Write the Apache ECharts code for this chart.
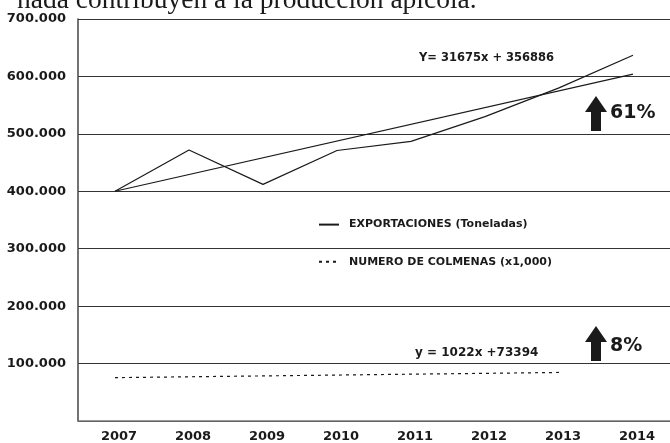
<!DOCTYPE html>
<html>
<head>
<meta charset="utf-8">
<script src="https://cdn.jsdelivr.net/npm/echarts@6/dist/echarts.min.js"></script>
<style>
  html, body { margin: 0; padding: 0; background: #fff; }
  #chart { width: 670px; height: 443px; }
</style>
</head>
<body>
<div id="chart"></div>
<script>
const years = ['2007', '2008', '2009', '2010', '2011', '2012', '2013', '2014']
const exportaciones = [400000, 472000, 412000, 471000, 487000, 530000, 580000, 637000]
const colmenas = [75500, 77000, 78500, 80000, 81500, 83000, 84500, null]
// linea de tendencia de exportaciones (solo extremos)
const tendencia = [400000, null, null, null, null, null, null, 604000]
const yTicks = [0, 100000, 200000, 300000, 400000, 500000, 600000, 700000]

const ink = '#1a1a1a'
const font = 'DejaVu Sans'

const chart = echarts.init(document.getElementById('chart'))

const arrow = (x, yTop, yBottom) => ({
  type: 'polygon',
  shape: {
    points: [
      [x, yTop], [x + 11, yTop + 16], [x + 5, yTop + 16], [x + 5, yBottom],
      [x - 5, yBottom], [x - 5, yTop + 16], [x - 11, yTop + 16]
    ]
  },
  style: { fill: ink }
})

const option = {
  backgroundColor: '#fff',
  animation: false,
  grid: { left: 78, right: 0, top: 19, bottom: 22 },
  xAxis: {
    type: 'category',
    data: years,
    boundaryGap: true,
    axisTick: { show: false },
    axisLine: { lineStyle: { color: '#777', width: 1.5 } },
    axisLabel: { color: ink, fontFamily: font, fontWeight: 'bold', fontSize: 13, margin: 9, padding: [0, 0, 0, 8] }
  },
  yAxis: {
    type: 'value',
    min: yTicks[0],
    max: yTicks[yTicks.length - 1],
    interval: 100000,
    axisLine: { show: true, lineStyle: { color: '#444', width: 1.5 } },
    axisTick: { show: false },
    splitLine: { lineStyle: { color: '#333', width: 1.2 } },
    axisLabel: {
      color: ink, fontFamily: font, fontWeight: 'bold', fontSize: 13, margin: 12,
      formatter: v => v === 0 ? '' : (v / 1000).toFixed(0) + '.000'
    }
  },
  legend: {
    orient: 'vertical',
    left: 313,
    top: 214,
    itemWidth: 20,
    itemHeight: 14,
    itemGap: 26,
    itemStyle: { opacity: 0 },
    data: ['EXPORTACIONES (Toneladas)', 'NUMERO DE COLMENAS (x1,000)'],
    textStyle: { color: ink, fontFamily: font, fontWeight: 'bold', fontSize: 11, padding: [0, 0, 0, 5] }
  },
  series: [
    {
      name: 'EXPORTACIONES (Toneladas)',
      type: 'line',
      data: exportaciones,
      symbol: 'none',
      lineStyle: { color: ink, width: 1.2 },
      itemStyle: { color: ink }
    },
    {
      name: 'tendencia',
      type: 'line',
      data: tendencia,
      connectNulls: true,
      symbol: 'none',
      lineStyle: { color: ink, width: 1.2 },
      itemStyle: { color: ink }
    },
    {
      name: 'NUMERO DE COLMENAS (x1,000)',
      type: 'line',
      data: colmenas,
      symbol: 'none',
      lineStyle: { color: ink, width: 1.2, type: [3, 4] },
      itemStyle: { color: ink }
    }
  ],
  graphic: [
    {
      type: 'text',
      x: 17, y: 1,
      style: { text: 'nada contribuyen a la producción apícola.', font: '27.5px "Liberation Serif"', fill: ink, verticalAlign: 'middle' }
    },
    {
      type: 'text',
      x: 419, y: 58,
      style: { text: 'Y= 31675x + 356886', font: 'bold 11.5px "DejaVu Sans"', fill: ink, verticalAlign: 'middle' }
    },
    {
      type: 'text',
      x: 415, y: 353,
      style: { text: 'y = 1022x +73394', font: 'bold 12px "DejaVu Sans"', fill: ink, verticalAlign: 'middle' }
    },
    arrow(596, 96, 131),
    {
      type: 'text',
      x: 610, y: 113,
      style: { text: '61%', font: 'bold 19px "DejaVu Sans"', fill: ink, verticalAlign: 'middle' }
    },
    arrow(596, 326, 361),
    {
      type: 'text',
      x: 610, y: 346,
      style: { text: '8%', font: 'bold 19px "DejaVu Sans"', fill: ink, verticalAlign: 'middle' }
    }
  ]
}

chart.setOption(option)
</script>
</body>
</html>
